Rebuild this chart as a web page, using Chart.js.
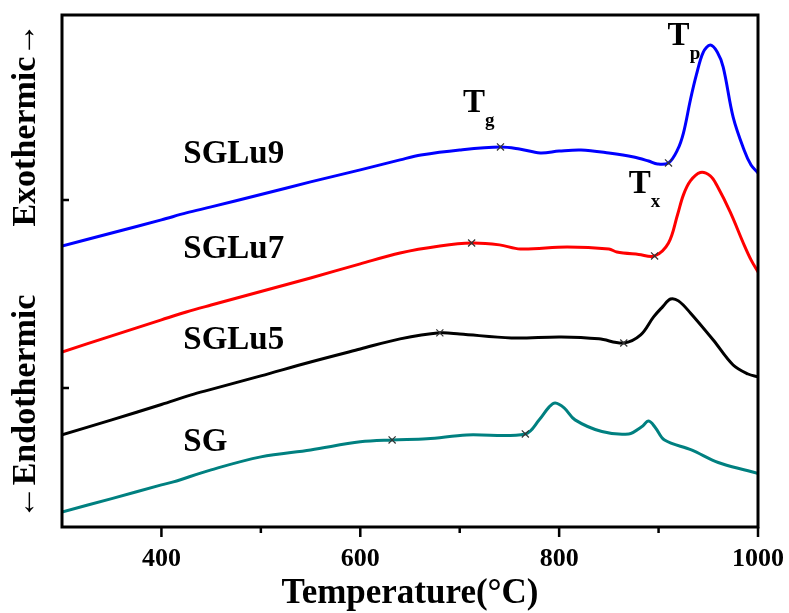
<!DOCTYPE html>
<html><head><meta charset="utf-8">
<script src="https://cdn.jsdelivr.net/npm/chart.js@4"></script>
<style>html,body{margin:0;padding:0;background:#fff}</style>
</head><body>
<canvas id="c" width="789" height="613"></canvas>
<script>
// ---- data (temperature °C, heat flow in arbitrary units) ----
const tempSGLu9 = [300,350,400,425,450,500,550,600,640,661,700,741,760,781,800,822,850,875,890,899,910,919,925,932,938,945,952,959,965,975,986,993,1000];
const valSGLu9  = [1.755,1.824,1.894,1.931,1.963,2.029,2.096,2.160,2.213,2.239,2.266,2.282,2.271,2.250,2.260,2.266,2.250,2.229,2.207,2.191,2.197,2.266,2.356,2.532,2.665,2.787,2.824,2.787,2.707,2.441,2.266,2.186,2.144];

const tempSGLu7 = [300,350,400,425,450,500,550,600,640,680,712,740,761,808,850,858,880,896,910,919,925,932,942,952,959,972,986,993,1000];
const valSGLu7  = [1.191,1.277,1.362,1.404,1.441,1.513,1.585,1.660,1.718,1.755,1.771,1.761,1.739,1.750,1.739,1.723,1.710,1.702,1.771,1.920,2.027,2.101,2.146,2.128,2.074,1.936,1.761,1.681,1.617];

const tempSGLu5 = [300,350,400,430,450,500,550,600,640,680,700,752,802,840,865,882,895,904,912,920,932,955,975,990,1000];
const valSGLu5  = [0.750,0.830,0.912,0.963,0.992,1.064,1.138,1.207,1.261,1.293,1.287,1.266,1.271,1.261,1.239,1.282,1.378,1.431,1.473,1.463,1.399,1.255,1.122,1.074,1.059];

const tempSG = [300,350,400,412,450,500,550,600,632,667,707,766,780,790,796,805,816,843,870,883,890,897,906,933,960,990,1000];
const valSG  = [0.340,0.411,0.484,0.500,0.564,0.633,0.670,0.713,0.723,0.729,0.750,0.755,0.830,0.899,0.920,0.894,0.830,0.768,0.755,0.793,0.824,0.787,0.723,0.670,0.603,0.559,0.545];

const seriesNames = ['SGLu9','SGLu7','SGLu5','SG'];
const tgTemps = [741, 712, 680, 632];
const tgVals  = [2.282, 1.771, 1.293, 0.723];
const txTemps = [910, 896, 865, 766];
const txVals  = [2.197, 1.702, 1.239, 0.755];

const xTickLabels = [400, 600, 800, 1000];
const xMinorTicks = [500, 700, 900];
const yTicks = [1, 2];
const Y_MIN = 0.26, Y_MAX = 2.984;

// label anchors (data coordinates)
const nameLabelT = [422, 422, 422, 422];
const nameLabelV = [2.197, 1.691, 1.207, 0.665];
const tLabels = [
  {main:'T', sub:'g', t:703.2, v:2.468},
  {main:'T', sub:'p', t:909.1, v:2.824},
  {main:'T', sub:'x', t:869.9, v:2.037}
];

const SERIF = '"Liberation Serif","Times New Roman",serif';
const colors = ['#0000ff','#ff0000','#000000','#008080'];
const temps = [tempSGLu9, tempSGLu7, tempSGLu5, tempSG];
const vals = [valSGLu9, valSGLu7, valSGLu5, valSG];

const datasets = [];
for (let i = 0; i < 4; i++) {
  datasets.push({
    label: seriesNames[i],
    data: temps[i].map((t, k) => ({x: t, y: vals[i][k]})),
    borderColor: colors[i], borderWidth: 3, pointRadius: 0,
    tension: 0.35, fill: false, order: 2
  });
}
datasets.push({
  label: 'markers', showLine: false, order: 0,
  data: tgTemps.map((t, i) => ({x: t, y: tgVals[i]})).concat(txTemps.map((t, i) => ({x: t, y: txVals[i]}))),
  pointStyle: 'crossRot', pointRadius: 5, borderColor: '#333', borderWidth: 1.2, backgroundColor: '#333'
});

const decor = {
  id: 'decor',
  afterDraw(chart) {
    const {ctx, chartArea: a, scales: {x, y}} = chart;
    ctx.save();
    ctx.strokeStyle = '#000';
    ctx.lineWidth = 3;
    ctx.strokeRect(a.left, a.top, a.right - a.left, a.bottom - a.top);
    ctx.lineWidth = 2.5;
    ctx.beginPath();
    xTickLabels.forEach(v => { const p = x.getPixelForValue(v); ctx.moveTo(p, a.bottom); ctx.lineTo(p, a.bottom + 10); });
    xMinorTicks.forEach(v => { const p = x.getPixelForValue(v); ctx.moveTo(p, a.bottom); ctx.lineTo(p, a.bottom + 6); });
    yTicks.forEach(v => { const p = y.getPixelForValue(v); ctx.moveTo(a.left, p); ctx.lineTo(a.left + 7, p); });
    ctx.stroke();
    ctx.fillStyle = '#000';
    ctx.textBaseline = 'alphabetic';
    ctx.textAlign = 'left';
    ctx.font = 'bold 33px ' + SERIF;
    seriesNames.forEach((n, i) => {
      ctx.fillText(n, x.getPixelForValue(nameLabelT[i]), y.getPixelForValue(nameLabelV[i]));
    });
    tLabels.forEach(l => {
      const px = x.getPixelForValue(l.t), py = y.getPixelForValue(l.v);
      ctx.font = 'bold 33px ' + SERIF;
      ctx.fillText(l.main, px, py);
      const w = ctx.measureText(l.main).width;
      ctx.font = 'bold 19px ' + SERIF;
      ctx.fillText(l.sub, px + w, py + 14);
    });
    ctx.restore();
  }
};

new Chart(document.getElementById('c'), {
  type: 'line',
  data: {datasets},
  options: {
    responsive: false, animation: false, devicePixelRatio: 1,
    layout: {padding: {left: 0, right: 31, top: 15, bottom: 0}},
    plugins: {legend: {display: false}, tooltip: {enabled: false}},
    scales: {
      x: {
        type: 'linear', min: 300, max: 1000,
        grid: {display: false, drawTicks: false}, border: {display: false},
        afterBuildTicks: s => { s.ticks = xTickLabels.map(v => ({value: v})); },
        afterFit: s => { s.height = 86; s.paddingLeft = 0; s.paddingRight = 0; },
        ticks: {padding: 17, color: '#000', autoSkip: false, maxRotation: 0,
                callback: v => String(v),
                font: {family: SERIF, size: 26, weight: 'bold'}},
        title: {display: true, text: 'Temperature(°C)', color: '#000',
                font: {family: SERIF, size: 35, weight: 'bold', lineHeight: 1.1},
                padding: {top: 0, bottom: 0}}
      },
      y: {
        type: 'linear', min: Y_MIN, max: Y_MAX,
        grid: {display: false, drawTicks: false}, border: {display: false},
        ticks: {display: false},
        afterFit: s => { s.width = 62; s.paddingTop = 0; s.paddingBottom = 0; },
        title: {display: true, text: '←Endothermic        Exothermic→', color: '#000',
                font: {family: SERIF, size: 34, weight: 'bold', lineHeight: 1.2},
                padding: {top: 6, bottom: 0}}
      }
    }
  },
  plugins: [decor]
});
</script>
</body></html>
